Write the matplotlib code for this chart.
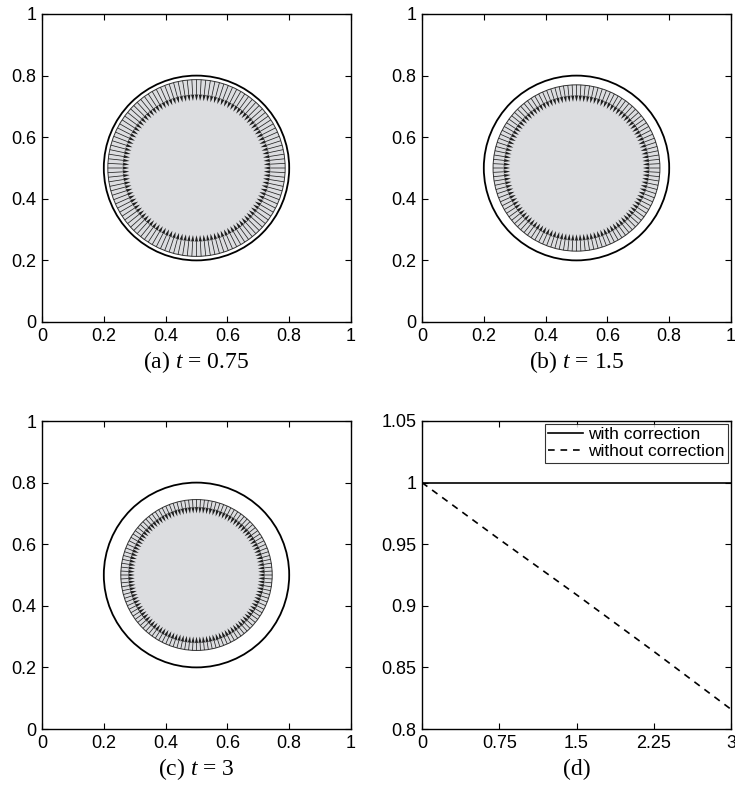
import numpy as np
import matplotlib
matplotlib.use("Agg")
from matplotlib import pyplot as plt
from matplotlib.patches import Circle

plt.rcParams['font.family'] = ['Liberation Sans', 'DejaVu Sans']
plt.rcParams['mathtext.fontset'] = 'custom'
plt.rcParams['mathtext.it'] = 'Liberation Serif:italic'
plt.rcParams['mathtext.rm'] = 'Liberation Serif'

# snapshots of the shrinking interface
snap_labels = ['(a)', '(b)', '(c)']
snap_times = ['0.75', '1.5', '3']
ring_outer = [0.287, 0.270, 0.245]   # outer edge of the velocity band
ring_inner = [0.218, 0.215, 0.200]   # where the arrows end
n_arrows = 120
ref_radius = 0.3
centre = (0.5, 0.5)

# relative area over time
t_vals = [0, 0.75, 1.5, 2.25, 3]
with_corr = [1.0, 1.0, 1.0, 1.0, 1.0]
without_corr = [1.0, 0.954, 0.909, 0.863, 0.816]
t_ticks = [0, 0.75, 1.5, 2.25, 3]
t_ticklabels = ['0', '0.75', '1.5', '2.25', '3']
y_ticks = [0.8, 0.85, 0.9, 0.95, 1.0, 1.05]
y_ticklabels = ['0.8', '0.85', '0.9', '0.95', '1', '1.05']
unit_ticks = [0, 0.2, 0.4, 0.6, 0.8, 1]
unit_ticklabels = ['0', '0.2', '0.4', '0.6', '0.8', '1']

fig = plt.figure(figsize=(7.35, 7.92), dpi=100)
W, H = 735.0, 792.0
boxes = [(42, 14), (422, 14), (42, 421), (422, 421)]
aw, ah = 309, 308
cap_gap = 40

def style(ax):
    ax.tick_params(direction='in', top=True, right=True, length=4, width=0.8,
                   labelsize=13, colors='black', pad=4)
    for s in ax.spines.values():
        s.set_linewidth(1.0)

axes = []
for (x0, y0) in boxes:
    ax = fig.add_axes([x0 / W, (H - y0 - ah) / H, aw / W, ah / H])
    style(ax)
    axes.append(ax)

for k in range(3):
    ax = axes[k]
    ax.set_xlim(0, 1)
    ax.set_ylim(0, 1)
    ax.set_xticks(unit_ticks)
    ax.set_xticklabels(unit_ticklabels)
    ax.set_yticks(unit_ticks)
    ax.set_yticklabels(unit_ticklabels)

    ax.add_patch(Circle(centre, ring_outer[k], facecolor='#dcdde0', edgecolor='#333333', lw=0.7, zorder=1))
    ax.add_patch(Circle(centre, ref_radius, fill=False, edgecolor='black', lw=1.3, zorder=3))

    th = np.linspace(0, 2 * np.pi, n_arrows, endpoint=False)
    xs = centre[0] + ring_outer[k] * np.cos(th)
    ys = centre[1] + ring_outer[k] * np.sin(th)
    L = ring_outer[k] - ring_inner[k]
    ax.quiver(xs, ys, -L * np.cos(th), -L * np.sin(th), angles='xy', scale_units='xy', scale=1,
              width=0.0024, headwidth=4.5, headlength=9, headaxislength=8, color='#1e1e1e', zorder=2)

    cx = (boxes[k][0] + aw / 2) / W
    cy = (H - boxes[k][1] - ah - cap_gap) / H
    fig.text(cx, cy, snap_labels[k] + ' $t$ = ' + snap_times[k], ha='center', va='center',
             fontsize=17, family='Liberation Serif')

ax = axes[3]
ax.plot(t_vals, with_corr, '-', color='black', lw=1.2, label='with correction')
ax.plot(t_vals, without_corr, '--', color='black', lw=1.2, dashes=(4, 3.5), label='without correction')
ax.set_xlim(0, 3)
ax.set_ylim(0.8, 1.05)
ax.set_xticks(t_ticks)
ax.set_xticklabels(t_ticklabels)
ax.set_yticks(y_ticks)
ax.set_yticklabels(y_ticklabels)
leg = ax.legend(loc='upper right', fontsize=12.5, frameon=True, fancybox=False, edgecolor='black',
                borderaxespad=0.15, handlelength=2.0, handletextpad=0.3, borderpad=0.2, labelspacing=0.1)
leg.get_frame().set_linewidth(0.8)
fig.text((422 + aw / 2) / W, (H - 421 - ah - cap_gap) / H, '(d)', ha='center', va='center',
         fontsize=17, family='Liberation Serif')

fig.savefig('out.png', dpi=100)
